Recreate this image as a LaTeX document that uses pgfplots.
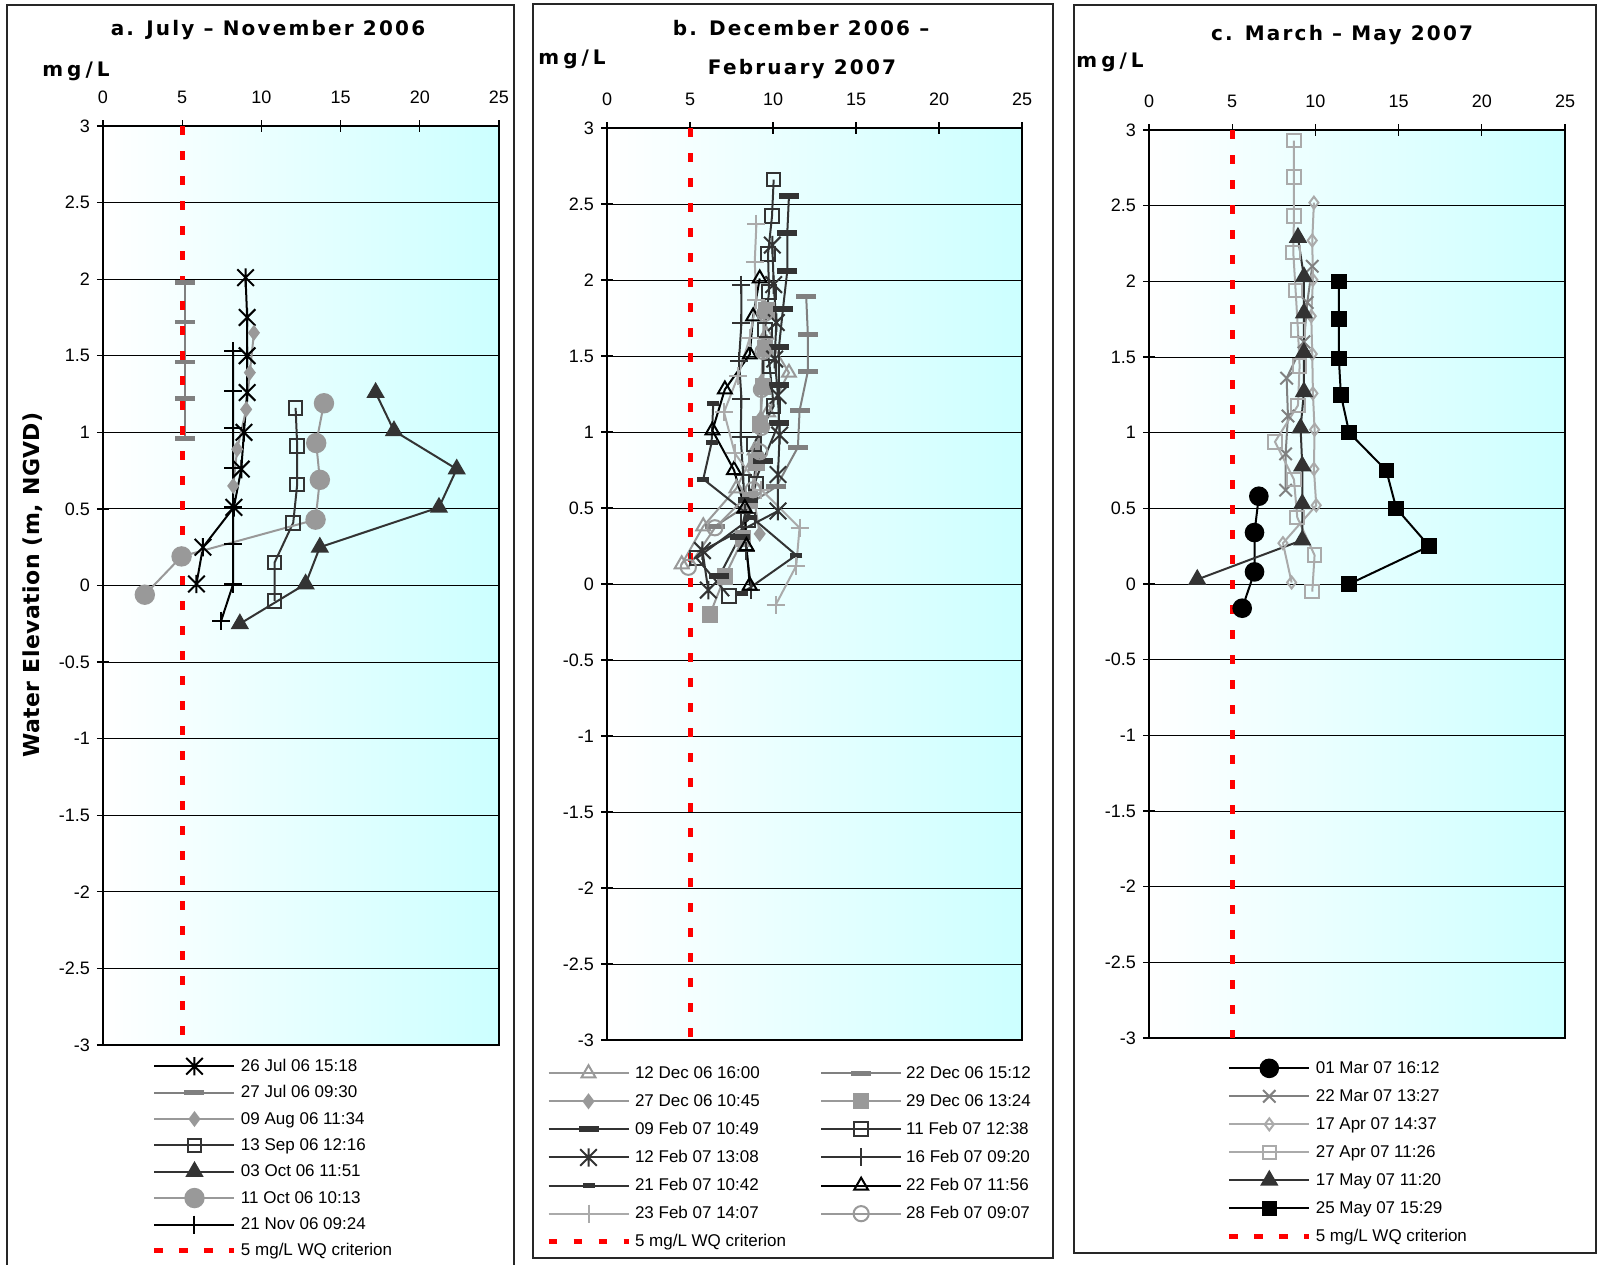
\documentclass[border=0pt]{standalone}
\usepackage{pgfplots}
\pgfplotsset{compat=1.18}
\usepackage{fontspec}
\setmainfont{Liberation Sans}
\newfontfamily\headfont{DejaVu Sans}[LetterSpace=11]
\newfontfamily\unitfont{DejaVu Sans}[LetterSpace=20]
\newfontfamily\sidefont{DejaVu Sans}[LetterSpace=2]

\definecolor{dk}{RGB}{51,51,51}
\definecolor{md}{RGB}{128,128,128}
\definecolor{lt}{RGB}{153,153,153}
\definecolor{lt2}{RGB}{170,170,170}
\definecolor{pale}{RGB}{204,255,255}

% six-armed star: a vertical bar crossed by an X
\pgfdeclareplotmark{xstar}{%
  \pgfpathmoveto{\pgfqpoint{0pt}{\pgfplotmarksize}}%
  \pgfpathlineto{\pgfqpoint{0pt}{-\pgfplotmarksize}}%
  \pgfpathmoveto{\pgfqpoint{.9\pgfplotmarksize}{.9\pgfplotmarksize}}%
  \pgfpathlineto{\pgfqpoint{-.9\pgfplotmarksize}{-.9\pgfplotmarksize}}%
  \pgfpathmoveto{\pgfqpoint{-.9\pgfplotmarksize}{.9\pgfplotmarksize}}%
  \pgfpathlineto{\pgfqpoint{.9\pgfplotmarksize}{-.9\pgfplotmarksize}}%
  \pgfusepathqstroke}

\pgfplotsset{
  profile/.style={
    scale only axis,
    anchor=north west,
    xmin=0, xmax=25, ymin=-3, ymax=3,
    xtick={0,5,10,15,20,25},
    ytick={-3,-2.5,-2,-1.5,-1,-0.5,0,0.5,1,1.5,2,2.5,3},
    xtick pos=upper, xticklabel pos=upper, ytick pos=left,
    tick align=center, major tick length=6pt,
    tick style={black, line width=0.6pt},
    axis line style={line width=1pt},
    ymajorgrids, grid style={black, line width=0.5pt},
    axis background/.style={shade, left color=white, right color=pale},
    /pgf/number format/assume math mode=true,
    tick label style={font=\fontsize{9}{10}\selectfont},
    xticklabel style={yshift=4.5pt},
    legend image code/.code={\draw[mark repeat=2,mark phase=2,##1] plot coordinates {(0pt,0pt) (20pt,0pt) (40pt,0pt)};},
    legend cell align=left,
    legend style={draw=none, fill=none, inner sep=0pt, outer sep=0pt, anchor=north west,
      font=\fontsize{8.5}{10}\selectfont,
      nodes={inner sep=0pt, text height=7pt, text depth=2pt},
      /tikz/every odd column/.append style={column sep=2pt}},
    every axis plot/.append style={line width=1pt, mark options={solid}},
  },
  crit/.style={red, line width=2.5pt, dash pattern=on 4.3pt off 8.2pt},
}

\begin{document}
\begin{tikzpicture}
\useasboundingbox (0pt,0pt) rectangle (799pt,-632pt);

% panel frames
\draw[line width=1pt, black!85] (3.5pt,-2.5pt) rectangle (257pt,-634pt);
\draw[line width=1pt, black!85] (266.5pt,-2pt) rectangle (526.5pt,-629pt);
\draw[line width=1pt, black!85] (537pt,-2.5pt) rectangle (798pt,-626.5pt);

% headings
\node[font=\headfont\bfseries\fontsize{10}{12}\selectfont] at (134pt,-15pt) {a. July – November 2006};
\node[font=\headfont\bfseries\fontsize{10}{12}\selectfont] at (400.5pt,-14pt) {b. December 2006 –};
\node[font=\headfont\bfseries\fontsize{10}{12}\selectfont] at (401pt,-34.5pt) {February 2007};
\node[font=\headfont\bfseries\fontsize{10}{12}\selectfont] at (671pt,-17.5pt) {c. March – May 2007};
\node[anchor=west, inner sep=0pt, font=\unitfont\bfseries\fontsize{10}{12}\selectfont] at (21pt,-35.5pt) {mg/L};
\node[anchor=west, inner sep=0pt, font=\unitfont\bfseries\fontsize{10}{12}\selectfont] at (269pt,-29.5pt) {mg/L};
\node[anchor=west, inner sep=0pt, font=\unitfont\bfseries\fontsize{10}{12}\selectfont] at (538pt,-31pt) {mg/L};
\node[rotate=90, font=\sidefont\bfseries\fontsize{11}{12}\selectfont] at (16.5pt,-292.5pt) {Water Elevation (m, NGVD)};

% ---------------- a. July - November 2006
\begin{axis}[profile, at={(51.5pt,-63pt)}, width=198pt, height=459.5pt,
  legend style={at={(0.1237,-0.0131)}, row sep=4.14pt}]
\addplot[black, mark=xstar, mark size=4.6pt] coordinates {(9.0,2.01) (9.1,1.75) (9.1,1.50) (9.1,1.26) (8.9,1.00) (8.73,0.76) (8.26,0.51) (6.31,0.25) (5.9,0.01)};
\addlegendentry{26 Jul 06 15:18}
\addplot[md, mark=-, mark size=5pt, mark options={line width=2.3pt}] coordinates {(5.17,1.98) (5.17,1.72) (5.17,1.46) (5.17,1.22) (5.17,0.96)};
\addlegendentry{27 Jul 06 09:30}
\addplot[lt, mark=diamond*, mark size=3.2pt] coordinates {(9.53,1.65) (9.27,1.39) (9.04,1.15) (8.47,0.89) (8.22,0.65)};
\addlegendentry{09 Aug 06 11:34}
\addplot[dk, mark=square, mark size=3.4pt] coordinates {(12.16,1.16) (12.26,0.91) (12.26,0.66) (12.01,0.41) (10.83,0.15) (10.83,-0.10)};
\addlegendentry{13 Sep 06 12:16}
\addplot[dk, mark=triangle*, mark size=4.3pt] coordinates {(17.21,1.26) (18.37,1.01) (22.33,0.76) (21.21,0.51) (13.69,0.25) (12.79,0.01) (8.64,-0.25)};
\addlegendentry{03 Oct 06 11:51}
\addplot[lt, mark=*, mark size=4.6pt] coordinates {(13.95,1.19) (13.46,0.93) (13.69,0.69) (13.42,0.43) (4.96,0.19) (2.64,-0.06)};
\addlegendentry{11 Oct 06 10:13}
\addplot[black, mark=+, mark size=4.5pt] coordinates {(8.22,1.53) (8.22,1.27) (8.22,1.03) (8.22,0.77) (8.22,0.51) (8.22,0.27) (8.22,0.01) (7.46,-0.23)};
\addlegendentry{21 Nov 06 09:24}
\addplot[crit] coordinates {(5,3) (5,-3)};
\addlegendentry{5 mg/L WQ criterion}
\end{axis}

% ---------------- b. December 2006 - February 2007
\begin{axis}[profile, at={(303.5pt,-64pt)}, width=207.5pt, height=456pt,
  legend columns=2,
  legend style={at={(-0.147,-0.0266)}, row sep=5pt, /tikz/column 2/.style={column sep=17pt}}]
\addplot[lt, mark=triangle, mark size=4pt] coordinates {(9.6,1.64) (10.96,1.39) (9.7,1.13) (8.9,0.88) (7.8,0.63) (5.8,0.38) (4.5,0.13)};
\addlegendentry{12 Dec 06 16:00}
\addplot[md, mark=-, mark size=5pt, mark options={line width=2.3pt}] coordinates {(12.0,1.89) (12.1,1.64) (12.1,1.40) (11.6,1.14) (11.5,0.90) (10.2,0.64) (6.5,0.38)};
\addlegendentry{22 Dec 06 15:12}
\addplot[lt, mark=diamond*, mark size=3.2pt] coordinates {(9.45,1.83) (9.4,1.57) (9.3,1.33) (9.25,1.09) (9.1,0.86) (8.8,0.60) (9.2,0.33)};
\addlegendentry{27 Dec 06 10:45}
\addplot[lt, mark=square*, mark size=3.6pt] coordinates {(9.6,1.80) (9.5,1.55) (9.4,1.30) (9.2,1.05) (9.0,0.80) (8.6,0.55) (8.2,0.30) (7.1,0.05) (6.2,-0.20)};
\addlegendentry{29 Dec 06 13:24}
\addplot[dk, mark=-, mark size=5pt, mark options={line width=3pt}] coordinates {(10.96,2.55) (10.86,2.31) (10.86,2.06) (10.6,1.81) (10.36,1.56) (10.36,1.31) (10.36,1.06) (9.4,0.81) (8.5,0.55) (8.0,0.31) (6.75,0.05)};
\addlegendentry{09 Feb 07 10:49}
\addplot[dk, mark=square, mark size=3.4pt] coordinates {(10.04,2.66) (9.94,2.42) (9.7,2.17) (9.76,1.92) (9.5,1.67) (9.8,1.43) (10.04,1.17) (8.84,0.92) (8.96,0.66) (8.5,0.42) (5.4,0.17) (7.35,-0.08)};
\addlegendentry{11 Feb 07 12:38}
\addplot[dk, mark=xstar, mark size=4.6pt] coordinates {(9.96,2.23) (10.04,1.97) (10.2,1.72) (10.1,1.48) (10.3,1.24) (10.4,0.98) (10.3,0.72) (10.3,0.48) (5.75,0.22) (6.1,-0.04)};
\addlegendentry{12 Feb 07 13:08}
\addplot[dk, mark=+, mark size=4.5pt] coordinates {(8.1,1.97) (8.1,1.72) (7.95,1.47) (8.1,1.22) (8.05,0.97) (8.2,0.72) (8.3,0.47) (8.4,0.22) (8.7,-0.04)};
\addlegendentry{16 Feb 07 09:20}
\addplot[dk, mark=-, mark size=3pt, mark options={line width=2.5pt}] coordinates {(6.4,1.19) (6.3,0.93) (5.8,0.69) (8.7,0.44) (11.4,0.19) (8.15,-0.06)};
\addlegendentry{21 Feb 07 10:42}
\addplot[black, mark=triangle, mark size=4pt] coordinates {(9.2,2.01) (8.8,1.76) (8.6,1.51) (7.1,1.28) (6.35,1.01) (7.65,0.75) (8.3,0.50) (8.4,0.25) (8.6,-0.01)};
\addlegendentry{22 Feb 07 11:56}
\addplot[lt2, mark=+, mark size=4.5pt] coordinates {(9.0,2.37) (8.9,2.12) (9.0,1.87) (8.6,1.62) (7.9,1.37) (7.05,1.13) (7.7,0.86) (9.3,0.62) (11.6,0.37) (11.4,0.12) (10.15,-0.14)};
\addlegendentry{23 Feb 07 14:07}
\addplot[lt, mark=o, mark size=3.8pt] coordinates {(9.5,1.78) (9.4,1.53) (9.3,1.28) (9.3,1.03) (9.2,0.87) (8.8,0.62) (6.5,0.37) (4.9,0.11)};
\addlegendentry{28 Feb 07 09:07}
\addplot[crit] coordinates {(5,3) (5,-3)};
\addlegendentry{5 mg/L WQ criterion}
\end{axis}

% ---------------- c. March - May 2007
\begin{axis}[profile, at={(574.5pt,-65pt)}, width=208pt, height=454pt,
  legend style={at={(0.187,-0.0235)}, row sep=5pt}]
\addplot[black, mark=*, mark size=4.4pt] coordinates {(6.60,0.58) (6.34,0.34) (6.34,0.08) (5.60,-0.16)};
\addlegendentry{01 Mar 07 16:12}
\addplot[md, mark=x, mark size=4.4pt] coordinates {(9.81,2.10) (9.51,1.86) (9.31,1.60) (8.27,1.36) (8.35,1.11) (8.21,0.86) (8.21,0.62)};
\addlegendentry{22 Mar 07 13:27}
\addplot[lt2, mark=diamond, mark size=3pt] coordinates {(9.91,2.52) (9.81,2.27) (9.85,2.01) (9.75,1.77) (9.81,1.52) (9.85,1.26) (9.95,1.02) (9.91,0.76) (10.05,0.52) (8.05,0.27) (8.57,0.01)};
\addlegendentry{17 Apr 07 14:37}
\addplot[lt2, mark=square, mark size=3.4pt] coordinates {(8.71,2.93) (8.71,2.69) (8.71,2.43) (8.67,2.19) (8.81,1.94) (8.95,1.68) (9.05,1.44) (8.95,1.18) (7.57,0.94) (8.71,0.69) (8.91,0.44) (9.95,0.19) (9.81,-0.05)};
\addlegendentry{27 Apr 07 11:26}
\addplot[dk, mark=triangle*, mark size=4.3pt] coordinates {(8.95,2.29) (9.31,2.03) (9.31,1.79) (9.31,1.53) (9.31,1.27) (9.11,1.03) (9.21,0.78) (9.21,0.53) (9.21,0.29) (2.90,0.03)};
\addlegendentry{17 May 07 11:20}
\addplot[black, mark=square*, mark size=3.4pt] coordinates {(11.41,2.00) (11.41,1.75) (11.41,1.49) (11.53,1.25) (12.03,1.00) (14.26,0.75) (14.86,0.50) (16.84,0.25) (12.03,0.00)};
\addlegendentry{25 May 07 15:29}
\addplot[crit] coordinates {(5,3) (5,-3)};
\addlegendentry{5 mg/L WQ criterion}
\end{axis}
\end{tikzpicture}
\end{document}
